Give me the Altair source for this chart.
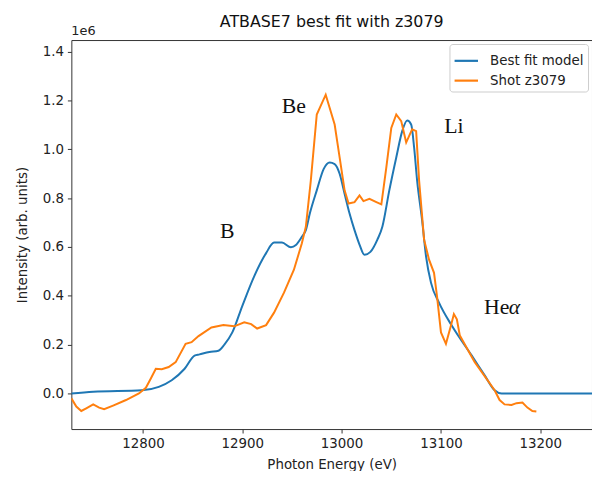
import altair as alt
import pandas as pd

# Photon energy (eV) and intensity (x1e6)
model_energy = [12728, 12750, 12799, 12816, 12829, 12842, 12852, 12857, 12867, 12876,
                12882, 12890, 12900, 12912, 12924, 12932, 12940, 12949, 12954, 12960,
                12964, 12968, 12975, 12982, 12988, 12993, 12998, 13003, 13008, 13013,
                13018, 13023, 13029, 13036, 13041, 13048, 13055, 13061, 13066, 13070,
                13073, 13076, 13081, 13085, 13090, 13098, 13111, 13131, 13144, 13154,
                13161, 13252]
model_intensity = [0.0, 0.007, 0.013, 0.027, 0.054, 0.101, 0.155, 0.16, 0.17, 0.175,
                   0.20, 0.25, 0.358, 0.48, 0.575, 0.618, 0.618, 0.599, 0.608, 0.642,
                   0.669, 0.737, 0.832, 0.92, 0.946, 0.94, 0.90, 0.818, 0.737, 0.669,
                   0.61, 0.568, 0.58, 0.63, 0.683, 0.832, 0.967, 1.075, 1.118, 1.102,
                   1.007, 0.872, 0.71, 0.561, 0.453, 0.372, 0.277, 0.155, 0.074, 0.013,
                   0.0, 0.0]

shot_energy = [12728, 12733, 12738, 12743, 12750, 12756, 12761, 12770, 12783, 12796,
               12803, 12808, 12813, 12819, 12826, 12833, 12843, 12849, 12856, 12869,
               12881, 12892, 12902, 12909, 12915, 12924, 12932, 12942, 12952, 12960,
               12964, 12969, 12975, 12984, 12993, 12998, 13003, 13007, 13013, 13018,
               13022, 13028, 13035, 13040, 13045, 13050, 13055, 13060, 13065, 13068,
               13071, 13075, 13078, 13083, 13088, 13093, 13096, 13100, 13105, 13110,
               13113, 13116, 13119, 13134, 13154, 13159, 13164, 13171, 13176, 13182,
               13187, 13192, 13196]
shot_intensity = [-0.02, -0.054, -0.072, -0.061, -0.045, -0.058, -0.065, -0.05, -0.027, 0.0,
                  0.023, 0.061, 0.101, 0.099, 0.108, 0.128, 0.203, 0.21, 0.235, 0.27,
                  0.28, 0.275, 0.291, 0.284, 0.266, 0.28, 0.331, 0.413, 0.507, 0.615,
                  0.683, 0.872, 1.143, 1.224, 1.102, 0.967, 0.832, 0.778, 0.784, 0.811,
                  0.788, 0.797, 0.784, 0.775, 0.926, 1.088, 1.143, 1.116, 1.028, 1.055,
                  1.082, 1.075, 0.872, 0.63, 0.548, 0.494, 0.399, 0.25, 0.203, 0.277,
                  0.325, 0.304, 0.237, 0.128, 0.013, -0.027, -0.045, -0.047, -0.04, -0.037,
                  -0.058, -0.072, -0.074]

series_names = ["Best fit model", "Shot z3079"]
series_colors = ["#1f77b4", "#ff7f0e"]

label_text = ["Be", "Li", "B", "He"]
label_energy = [12952, 13113, 12885, 13156]
label_intensity = [1.176, 1.095, 0.667, 0.355]
alpha_energy = [13174]
alpha_intensity = [0.355]

x_ticks = [12800, 12900, 13000, 13100, 13200]
y_ticks = [0.0, 0.2, 0.4, 0.6, 0.8, 1.0, 1.2, 1.4]

model_df = pd.DataFrame({"energy": model_energy, "intensity": model_intensity,
                         "series": series_names[0]})
shot_df = pd.DataFrame({"energy": shot_energy, "intensity": shot_intensity,
                        "series": series_names[1]})
labels_df = pd.DataFrame({"energy": label_energy, "intensity": label_intensity,
                          "text": label_text})
alpha_df = pd.DataFrame({"energy": alpha_energy, "intensity": alpha_intensity,
                         "text": ["α"]})

FONT = "DejaVu Sans"
xscale = alt.Scale(domain=[12728, 13252], nice=False, zero=False)
yscale = alt.Scale(domain=[-0.146, 1.448], nice=False, zero=False)

x_enc = alt.X("energy:Q", scale=xscale,
              axis=alt.Axis(values=x_ticks, format="d", title="Photon Energy (eV)"))
y_enc = alt.Y("intensity:Q", scale=yscale,
              axis=alt.Axis(values=y_ticks, format=".1f", title="Intensity (arb. units)"))

color_enc = alt.Color(
    "series:N",
    scale=alt.Scale(domain=series_names, range=series_colors),
    sort=series_names,
    legend=alt.Legend(title=None, orient="top-right", offset=4,
                      symbolType="stroke", symbolSize=560, symbolStrokeWidth=2.2,
                      labelFontSize=13.5, labelFont=FONT, labelColor="#222",
                      padding=4, rowPadding=0, labelOffset=11,
                      strokeColor="#cccccc", fillColor="white", cornerRadius=3),
)

model_line = alt.Chart(model_df).mark_line(strokeWidth=2, clip=True, interpolate="monotone").encode(
    x=x_enc, y=y_enc, color=color_enc, order=alt.Order("energy:Q"))
shot_line = alt.Chart(shot_df).mark_line(strokeWidth=2, clip=True).encode(
    x=x_enc, y=y_enc, color=color_enc, order=alt.Order("energy:Q"))

labels = alt.Chart(labels_df).mark_text(
    font="Liberation Serif", fontSize=22, color="#111", align="center", baseline="middle"
).encode(x=alt.X("energy:Q", scale=xscale), y=alt.Y("intensity:Q", scale=yscale), text="text:N")

alpha_lbl = alt.Chart(alpha_df).mark_text(
    font="Liberation Serif", fontSize=22, fontStyle="italic", color="#111",
    align="center", baseline="middle"
).encode(x=alt.X("energy:Q", scale=xscale), y=alt.Y("intensity:Q", scale=yscale), text="text:N")

offset_txt = alt.Chart(pd.DataFrame({"t": ["1e6"]})).mark_text(
    font=FONT, fontSize=13, color="#222", align="left", baseline="middle"
).encode(x=alt.value(0), y=alt.value(-9), text="t:N")

title_txt = alt.Chart(pd.DataFrame({"t": ["ATBASE7 best fit with z3079"]})).mark_text(
    font=FONT, fontSize=16, color="#111", align="center", baseline="middle"
).encode(x=alt.value(263), y=alt.value(-18), text="t:N")

chart = alt.layer(model_line, shot_line, labels, alpha_lbl, offset_txt, title_txt).properties(
    width=526, height=393,
    autosize=alt.AutoSizeParams(type="none"),
    padding={"left": 64, "top": 30, "right": 0, "bottom": 40},
).configure_view(
    stroke="#333", strokeWidth=1
).configure_axis(
    domain=False, grid=False, ticks=True, tickSize=4, tickColor="#333",
    labelFont=FONT, labelFontSize=13.5, labelColor="#222", labelPadding=4,
    titleFont=FONT, titleFontSize=13.5, titleColor="#222", titleFontWeight="normal",
).configure_axisX(titlePadding=7).configure_axisY(titlePadding=13)

chart.save("out.html", embed_options={"renderer": "svg", "actions": False})
